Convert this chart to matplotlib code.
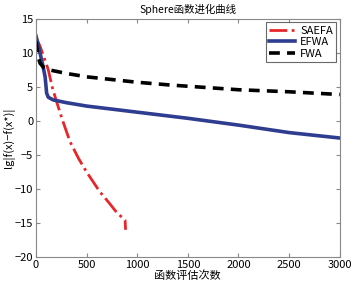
import matplotlib
matplotlib.use("Agg")
import matplotlib.pyplot as plt

plt.rcParams["font.family"] = ["Noto Sans CJK SC", "DejaVu Sans"]
plt.rcParams["axes.unicode_minus"] = True

# SAEFA curve
saefa_x = [0, 40, 80, 120, 160, 200, 260, 335, 420, 500, 630, 720, 800, 860, 880, 885]
saefa_y = [12.3, 11.0, 9.3, 7.6, 5.0, 3.0, 0.2, -3.0, -5.5, -7.5, -10.4, -12.0, -13.5, -14.3, -14.6, -16.0]

# EFWA curve
efwa_x = [0, 40, 70, 90, 105, 121, 170, 300, 500, 1000, 1500, 2000, 2500, 3000]
efwa_y = [12.5, 10.0, 8.0, 6.5, 4.1, 3.5, 3.1, 2.7, 2.2, 1.3, 0.4, -0.6, -1.7, -2.5]

# FWA curve
fwa_x = [0, 20, 40, 80, 138, 300, 500, 1000, 1322, 2000, 2500, 3000]
fwa_y = [11.7, 9.5, 8.5, 7.8, 7.5, 7.0, 6.5, 5.7, 5.3, 4.6, 4.3, 3.9]

xticks = [0, 500, 1000, 1500, 2000, 2500, 3000]
yticks = [-20, -15, -10, -5, 0, 5, 10, 15]

fig = plt.figure(figsize=(3.54, 2.84), dpi=100)
ax = fig.add_axes([0.1017, 0.095, 0.858, 0.838])

ax.plot(saefa_x, saefa_y, color="#e8262a", linestyle="-.", linewidth=2.0, label="SAEFA")
ax.plot(efwa_x, efwa_y, color="#2e3d8f", linestyle="-", linewidth=2.6, label="EFWA")
ax.plot(fwa_x, fwa_y, color="black", linestyle=(0, (3, 2)), linewidth=2.6, label="FWA")

ax.set_xlim(0, 3000)
ax.set_ylim(-20, 15)
ax.set_xticks(xticks)
ax.set_yticks(yticks)
ax.tick_params(direction="in", top=True, right=True, labelsize=8, length=3,
               color="#888888", pad=2)
for s in ax.spines.values():
    s.set_color("#888888")
    s.set_linewidth(0.8)

ax.set_title("Sphere函数进化曲线", fontsize=7.5, pad=4)
ax.set_xlabel("函数评估次数", fontsize=8, labelpad=0)
ax.set_ylabel("lg|f(x)−f(x*)|", fontsize=8, labelpad=0)

leg = ax.legend(loc="upper right", fontsize=8, frameon=True, fancybox=False,
                handlelength=2.3, borderpad=0.3, labelspacing=0.15, handletextpad=0.5,
                borderaxespad=0.3)
leg.get_frame().set_edgecolor("#444444")
leg.get_frame().set_linewidth(0.8)

fig.savefig("out.png", dpi=100)
